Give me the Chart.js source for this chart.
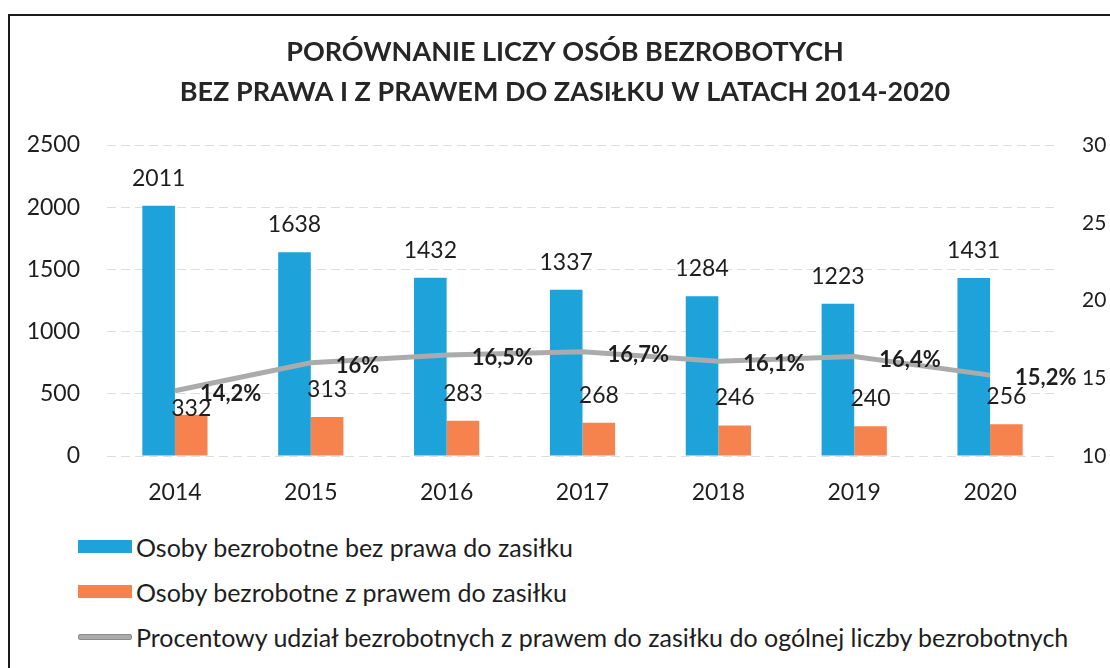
<!DOCTYPE html>
<html lang="pl">
<head>
<meta charset="utf-8">
<title>Porównanie liczby osób bezrobotnych 2014-2020</title>
<script src="https://cdn.jsdelivr.net/npm/chart.js@4.4.1/dist/chart.umd.min.js"></script>
<style>
  html, body { margin: 0; padding: 0; background: #fff; }
  body { width: 1110px; height: 668px; overflow: hidden; position: relative; font-family: Lato, 'Liberation Sans', sans-serif; color: #1e1e1e; }
  #frame { position: absolute; left: 8px; top: 14px; width: 1200px; height: 700px; border-left: 2px solid #1a1a1a; border-top: 2px solid #1a1a1a; }
  #wrap { position: absolute; left: 0; top: 0; width: 1110px; height: 520px; }
  #legend { position: absolute; left: 78px; top: 524px; }
  .item { height: 45px; display: flex; align-items: center; font-size: 25px; white-space: nowrap; }
  .sw { width: 54px; margin-right: 4px; box-sizing: border-box; }
  .bar { height: 13px; }
  .line { height: 6px; border: 1px solid #8c8c8c; border-radius: 2px; }
</style>
</head>
<body>
<div id="frame"></div>
<div id="wrap"><canvas id="chart"></canvas></div>
<div id="legend"></div>
<script>
// data
const years = ['2014', '2015', '2016', '2017', '2018', '2019', '2020'];
const bezPrawa = [2011, 1638, 1432, 1337, 1284, 1223, 1431];
const zPrawem = [332, 313, 283, 268, 246, 240, 256];
const udzial = [14.2, 16, 16.5, 16.7, 16.1, 16.4, 15.2];
const titleLines = ['PORÓWNANIE LICZY OSÓB BEZROBOTYCH', 'BEZ PRAWA I Z PRAWEM DO ZASIŁKU W LATACH 2014-2020'];
const legendLabels = [
  'Osoby bezrobotne bez prawa do zasiłku',
  'Osoby bezrobotne z prawem do zasiłku',
  'Procentowy udział bezrobotnych z prawem do zasiłku do ogólnej liczby bezrobotnych'
];

const BLUE = '#1ea2da';
const ORANGE = '#f6834d';
const GREY = '#ababab';
const FONT = "Lato, 'Liberation Sans', sans-serif";
const TEXT = '#1e1e1e';

// excel nudged the first orange label down so it doesn't hit the % label
const orangeShift = [21, 0, 0, 0, 0, 0, 0];

function pct(v) { return String(v).replace('.', ',') + '%'; }

const valueLabels = {
  id: 'valueLabels',
  afterDatasetsDraw(chart) {
    const ctx = chart.ctx;
    ctx.save();
    ctx.fillStyle = TEXT;
    chart.data.datasets.forEach((ds, di) => {
      const meta = chart.getDatasetMeta(di);
      meta.data.forEach((el, i) => {
        const v = ds.data[i];
        if (ds.type === 'line') {
          ctx.font = 'bold 22px ' + FONT;
          ctx.textAlign = 'left';
          ctx.textBaseline = 'middle';
          ctx.fillText(pct(v), el.x + 25, el.y + 3);
        } else {
          ctx.font = '23px ' + FONT;
          ctx.textAlign = 'center';
          ctx.textBaseline = 'bottom';
          const shift = di === 1 ? orangeShift[i] : 0;
          ctx.fillText(String(v), el.x, el.y - 16 + shift);
        }
      });
    });
    ctx.restore();
  }
};

const chart = new Chart(document.getElementById('chart'), {
  data: {
    labels: years,
    datasets: [
      { type: 'bar', label: legendLabels[0], data: bezPrawa, backgroundColor: BLUE, yAxisID: 'y', order: 1,
        categoryPercentage: 0.48, barPercentage: 1 },
      { type: 'bar', label: legendLabels[1], data: zPrawem, backgroundColor: ORANGE, yAxisID: 'y', order: 1,
        categoryPercentage: 0.48, barPercentage: 1 },
      { type: 'line', label: legendLabels[2], data: udzial, borderColor: GREY, borderWidth: 5,
        pointRadius: 0, tension: 0, yAxisID: 'y1', order: 0 }
    ]
  },
  options: {
    responsive: true,
    maintainAspectRatio: false,
    animation: false,
    layout: { padding: { left: 20, right: 0, top: 0, bottom: 0 } },
    plugins: {
      legend: { display: false },
      tooltip: { enabled: false },
      title: {
        display: true,
        text: titleLines,
        color: '#262626',
        font: { family: FONT, size: 27, weight: 'bold', lineHeight: 1.5 },
        padding: { top: 32, bottom: 32 }
      }
    },
    scales: {
      x: {
        grid: { display: false },
        border: { display: false },
        ticks: { color: TEXT, font: { family: FONT, size: 23 }, padding: 15 },
        afterFit(s) { s.height = 64; }
      },
      y: {
        position: 'left',
        min: 0, max: 2500,
        ticks: { stepSize: 500, color: TEXT, font: { family: FONT, size: 23 }, padding: 27,
          callback: (v) => String(v) },
        grid: { color: '#dedede', lineWidth: 1, drawTicks: false },
        border: { display: false, dash: [9, 5] },
        afterFit(s) { s.width = 87; }
      },
      y1: {
        position: 'right',
        min: 10, max: 30,
        ticks: { stepSize: 5, color: TEXT, font: { family: FONT, size: 21 }, padding: 24 },
        grid: { drawOnChartArea: false, drawTicks: false },
        border: { display: false },
        afterFit(s) { s.width = 52; }
      }
    }
  },
  plugins: [valueLabels]
});

// legend as plain html rows below the canvas
const legendEl = document.getElementById('legend');
chart.data.datasets.forEach((ds) => {
  const row = document.createElement('div');
  row.className = 'item';
  const sw = document.createElement('span');
  if (ds.type === 'line') {
    sw.className = 'sw line';
    sw.style.background = ds.borderColor;
  } else {
    sw.className = 'sw bar';
    sw.style.background = ds.backgroundColor;
  }
  const txt = document.createElement('span');
  txt.textContent = ds.label;
  row.appendChild(sw);
  row.appendChild(txt);
  legendEl.appendChild(row);
});
</script>
</body>
</html>
